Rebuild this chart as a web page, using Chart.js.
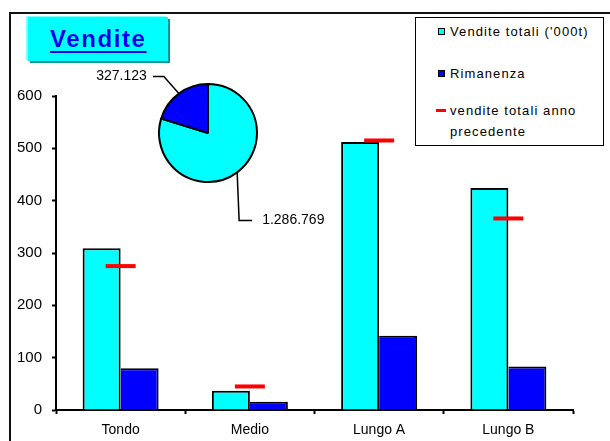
<!DOCTYPE html>
<html>
<head>
<meta charset="utf-8">
<script src="https://cdn.jsdelivr.net/npm/chart.js@4.4.0/dist/chart.umd.min.js"></script>
<style>
  html, body { margin: 0; padding: 0; background: #fff; }
  #wrap { position: relative; width: 610px; height: 441px; overflow: hidden; font-family: Arial, "Liberation Sans", sans-serif; }
  #frame { position: absolute; left: 9px; top: 12px; width: 700px; height: 500px; border-left: 2px solid #111; border-top: 2px solid #111; }
  #bars { position: absolute; left: 0; top: 0; }
  #pie { position: absolute; left: 80px; top: 60px; }
  #title { position: absolute; left: 28px; top: 17px; width: 140px; height: 44px; background: #00ffff;
           box-shadow: -2px -1px 0 #80ffff, 2px 2px 0 #009999; }
  #title span { position: absolute; left: 22px; top: 8px; font-size: 24px; line-height: 28px; font-weight: bold;
                letter-spacing: 1.6px; color: #0000ee; text-decoration: underline; text-decoration-thickness: 2px;
                text-underline-offset: 4px; }
  #legend { position: absolute; left: 415px; top: 17px; width: 187px; height: 127px; border: 1.5px solid #000; background: #fff; }
  .item { position: absolute; left: 20px; font-size: 13px; line-height: 21px; letter-spacing: 1.1px; color: #000; }
  .item .mk { position: absolute; left: 2px; }
  .item .tx { position: absolute; left: 14px; top: 0; width: 150px; }
</style>
</head>
<body>
<div id="wrap">
  <div id="frame"></div>
  <canvas id="bars" width="610" height="441"></canvas>
  <canvas id="pie" width="260" height="180"></canvas>
  <div id="title"><span></span></div>
  <div id="legend"></div>
</div>
<script>
// values
var chartTitle = 'Vendite';
var categories = ['Tondo', 'Medio', 'Lungo A', 'Lungo B'];
var venditeTotali = [309, 37, 512, 424];
var rimanenza = [80, 16, 142, 83];
var venditePrecedenti = [275, 45, 515, 366];
var seriesLabels = ["Vendite totali ('000t)", 'Rimanenza', 'vendite totali anno precedente'];
var pieValues = [1286769, 327123];
var yMin = 0, yMax = 600, yStep = 100;

var CYAN = '#00ffff', BLUE = '#0000ff', RED = '#ff0000';
var FONT = 'Arial, "Liberation Sans", sans-serif';

document.querySelector('#title span').textContent = chartTitle;

function fmtIt(n) {
    return String(n).replace(/\B(?=(\d{3})+(?!\d))/g, '.');
}

var barChart = new Chart(document.getElementById('bars'), {
    type: 'bar',
    data: {
        labels: categories,
        datasets: [{
            label: seriesLabels[0],
            data: venditeTotali,
            backgroundColor: CYAN,
            borderColor: '#000',
            borderWidth: { top: 2, left: 2, right: 2, bottom: 0 },
            borderSkipped: 'bottom',
            inflateAmount: 0,
            order: 1
        }, {
            label: seriesLabels[1],
            data: rimanenza,
            backgroundColor: BLUE,
            borderColor: '#000',
            borderWidth: { top: 2, left: 0, right: 2, bottom: 0 },
            borderSkipped: 'bottom',
            inflateAmount: 0,
            order: 1
        }, {
            label: seriesLabels[2],
            type: 'line',
            data: venditePrecedenti,
            showLine: false,
            pointStyle: 'line',
            pointRadius: 15,
            pointHoverRadius: 15,
            pointBorderWidth: 4,
            borderColor: RED,
            backgroundColor: RED,
            order: 0
        }]
    },
    options: {
        responsive: false,
        animation: false,
        events: [],
        categoryPercentage: 0.588,
        barPercentage: 1,
        layout: { padding: { left: 0, top: 96, right: 37, bottom: 0 } },
        plugins: { legend: { display: false }, title: { display: false }, tooltip: { enabled: false } },
        scales: {
            x: {
                grid: { drawOnChartArea: false, drawTicks: true, tickLength: 4, tickWidth: 2, tickColor: '#000', offset: true },
                border: { display: true, color: '#000', width: 2 },
                ticks: { color: '#000', font: { family: FONT, size: 14 }, padding: 8 },
                afterFit: function (s) { s.height = 31; }
            },
            y: {
                min: yMin,
                max: yMax,
                ticks: { stepSize: yStep, color: '#000', font: { family: FONT, size: 15 }, padding: 10 },
                grid: { drawOnChartArea: false, tickLength: 4, tickWidth: 2, tickColor: '#000' },
                border: { display: true, color: '#000', width: 2 },
                afterFit: function (s) { s.width = 56; }
            }
        }
    }
});

// leader lines + value labels for the small pie
var pieLeaders = {
    id: 'pieLeaders',
    afterDatasetsDraw: function (chart) {
        var ctx = chart.ctx;
        var values = chart.data.datasets[0].data;
        chart.getDatasetMeta(0).data.forEach(function (arc, i) {
            var mid = (arc.startAngle + arc.endAngle) / 2;
            var ex = arc.x + Math.cos(mid) * arc.outerRadius;
            var ey = arc.y + Math.sin(mid) * arc.outerRadius;
            var right = Math.cos(mid) > 0;
            var bx = right ? ex + 2 : ex - 15;
            var by = right ? ey + 48 : ey - 17;
            var cx = right ? bx + 13 : bx - 11;
            ctx.save();
            ctx.strokeStyle = '#000';
            ctx.lineWidth = 1.5;
            ctx.beginPath();
            ctx.moveTo(ex, ey);
            ctx.lineTo(bx, by);
            ctx.lineTo(cx, by);
            ctx.stroke();
            ctx.fillStyle = '#000';
            ctx.font = '14px ' + FONT;
            ctx.textBaseline = 'middle';
            ctx.textAlign = right ? 'left' : 'right';
            ctx.fillText(fmtIt(values[i]), right ? cx + 10 : cx - 6, by);
            ctx.restore();
        });
    }
};

var pieChart = new Chart(document.getElementById('pie'), {
    type: 'pie',
    data: {
        labels: seriesLabels.slice(0, 2),
        datasets: [{
            data: pieValues,
            backgroundColor: [CYAN, BLUE],
            borderColor: '#000',
            borderWidth: 2
        }]
    },
    options: {
        responsive: false,
        animation: false,
        events: [],
        layout: { padding: { left: 78, top: 23, right: 82, bottom: 57 } },
        plugins: { legend: { display: false }, tooltip: { enabled: false } }
    },
    plugins: [pieLeaders]
});

// legend box, built from the bar chart datasets
var legendTops = [3, 45, 82];
var legend = document.getElementById('legend');
barChart.data.datasets.forEach(function (ds, i) {
    var item = document.createElement('div');
    item.className = 'item';
    item.style.top = legendTops[i] + 'px';
    var mk = document.createElement('div');
    mk.className = 'mk';
    if (ds.type === 'line') {
        mk.style.cssText = 'left:0;top:9px;width:10px;height:3px;background:' + ds.borderColor;
    } else {
        mk.style.cssText = 'top:7px;width:5px;height:5px;border:1px solid #000;background:' + ds.backgroundColor;
    }
    var tx = document.createElement('div');
    tx.className = 'tx';
    tx.textContent = ds.label;
    item.appendChild(mk);
    item.appendChild(tx);
    legend.appendChild(item);
});
</script>
</body>
</html>
